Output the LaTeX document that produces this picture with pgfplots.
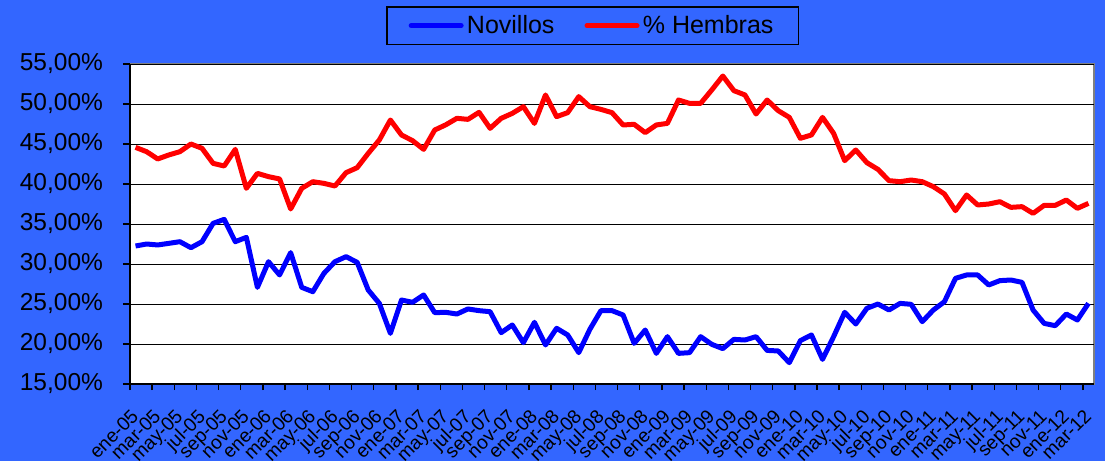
\documentclass[border=0pt]{standalone}
\usepackage{fontspec}
\setmainfont{Liberation Sans}
\usepackage{pgfplots}
\pgfplotsset{compat=1.18}
\definecolor{bgblue}{HTML}{3366FF}
\definecolor{serblue}{HTML}{0000FF}
\definecolor{serred}{HTML}{FF0000}

\begin{document}
\begin{tikzpicture}
\path[use as bounding box] (-78pt,-46.2pt) rectangle (585pt,230.4pt);
\fill[bgblue] (-78pt,-46.2pt) rectangle (585pt,230.4pt);
\begin{axis}[
    at={(0,0)}, anchor=south west,
    scale only axis, width=578.4pt, height=192pt,
    xmin=-0.5, xmax=86.5, ymin=15, ymax=55,
    enlargelimits=false,
    axis x line*=bottom, axis y line*=left,
    axis line style={-, black, line width=1.2pt},
    axis background/.style={fill=white, draw=gray, line width=1.2pt},
    tick align=outside,
    ytick={15,20,...,55},
    /pgf/number format/assume math mode=true,
    yticklabel={\pgfmathprintnumber[fixed,fixed zerofill,precision=2,use comma,assume math mode=true]{\tick}\%},
    yticklabel style={xshift=-8.5pt, font=\fontsize{14.7}{17}\selectfont, black},
    major y tick style={black, line width=0.8pt},
    major tick length=4.2pt,
    ymajorgrids, major grid style={black, line width=0.6pt},
    xtick={-0.5,1.5,...,85.5},
    xticklabels={ene-05,mar-05,may-05,jul-05,sep-05,nov-05,
                 ene-06,mar-06,may-06,jul-06,sep-06,nov-06,
                 ene-07,mar-07,may-07,jul-07,sep-07,nov-07,
                 ene-08,mar-08,may-08,jul-08,sep-08,nov-08,
                 ene-09,mar-09,may-09,jul-09,sep-09,nov-09,
                 ene-10,mar-10,may-10,jul-10,sep-10,nov-10,
                 ene-11,mar-11,may-11,jul-11,sep-11,nov-11,
                 ene-12,mar-12},
    major x tick style={draw=none},
    minor xtick={-0.5,1.5,...,85.5},
    minor x tick style={black, line width=0.8pt},
    minor tick length=3.6pt,
    xticklabel shift=10pt,
    xticklabel style={rotate=45, anchor=north east, inner sep=0pt, font=\fontsize{11.5}{13}\selectfont, black},
    legend columns=2,
    legend style={at={(axis description cs:0.48,1)}, anchor=south, yshift=11.4pt,
        draw=black, line width=0.9pt, fill=bgblue,
        font=\fontsize{15}{18}\selectfont,
        inner xsep=13pt, inner ysep=3pt,
        /tikz/every even column/.append style={column sep=16pt}},
    legend image code/.code={\draw[#1, line cap=round] (0pt,0pt) -- (30pt,0pt);},
]
\addplot[serblue, line width=3pt, line join=round] coordinates {
(0,32.25) (1,32.5) (2,32.38) (3,32.58) (4,32.79) (5,32.04) (6,32.79) (7,35.08)
(8,35.58) (9,32.79) (10,33.33) (11,27.08) (12,30.29) (13,28.63) (14,31.42) (15,27.08)
(16,26.54) (17,28.83) (18,30.29) (19,30.92) (20,30.21) (21,26.75) (22,25.08) (23,21.33)
(24,25.5) (25,25.21) (26,26.13) (27,23.92) (28,23.96) (29,23.75) (30,24.38) (31,24.17)
(32,24.04) (33,21.42) (34,22.38) (35,20.17) (36,22.71) (37,19.88) (38,21.96) (39,21.13)
(40,18.92) (41,21.83) (42,24.17) (43,24.17) (44,23.63) (45,20.08) (46,21.75) (47,18.83)
(48,20.92) (49,18.83) (50,18.92) (51,20.92) (52,19.96) (53,19.42) (54,20.58) (55,20.5)
(56,20.92) (57,19.2) (58,19.13) (59,17.67) (60,20.42) (61,21.13) (62,18.08) (63,20.92)
(64,23.96) (65,22.5) (66,24.46) (67,25.0) (68,24.25) (69,25.08) (70,24.96) (71,22.79)
(72,24.25) (73,25.29) (74,28.21) (75,28.63) (76,28.63) (77,27.38) (78,27.92) (79,28.0)
(80,27.71) (81,24.25) (82,22.58) (83,22.29) (84,23.75) (85,23.0) (86,25.08)
};
\addlegendentry{Novillos}
\addplot[serred, line width=3pt, line join=round] coordinates {
(0,44.58) (1,44.04) (2,43.13) (3,43.63) (4,44.04) (5,45.0) (6,44.46) (7,42.58)
(8,42.25) (9,44.33) (10,39.46) (11,41.33) (12,40.92) (13,40.63) (14,36.88) (15,39.46)
(16,40.29) (17,40.08) (18,39.75) (19,41.42) (20,42.04) (21,43.83) (22,45.5) (23,48.0)
(24,46.13) (25,45.42) (26,44.33) (27,46.75) (28,47.4) (29,48.21) (30,48.08) (31,48.96)
(32,46.96) (33,48.21) (34,48.83) (35,49.67) (36,47.58) (37,51.13) (38,48.42) (39,48.92)
(40,50.92) (41,49.67) (42,49.33) (43,48.92) (44,47.38) (45,47.46) (46,46.42) (47,47.38)
(48,47.58) (49,50.5) (50,50.08) (51,50.08) (52,51.75) (53,53.5) (54,51.67) (55,51.13)
(56,48.75) (57,50.5) (58,49.17) (59,48.33) (60,45.71) (61,46.13) (62,48.33) (63,46.33)
(64,42.92) (65,44.25) (66,42.67) (67,41.83) (68,40.42) (69,40.29) (70,40.5) (71,40.29)
(72,39.67) (73,38.75) (74,36.67) (75,38.63) (76,37.38) (77,37.5) (78,37.79) (79,37.08)
(80,37.17) (81,36.33) (82,37.33) (83,37.33) (84,38.0) (85,36.96) (86,37.58)
};
\addlegendentry{\% Hembras}
\end{axis}
\end{tikzpicture}
\end{document}
